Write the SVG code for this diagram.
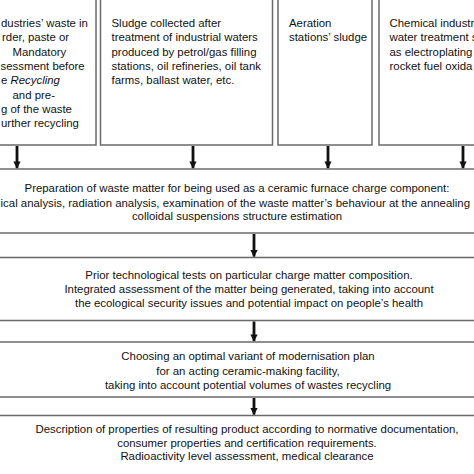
<svg xmlns="http://www.w3.org/2000/svg" width="474" height="474" viewBox="0 0 474 474">
<style>
text{font-family:"Liberation Sans",Arial,sans-serif;font-size:11.4px;fill:#111}
.c{text-anchor:middle}
.e{text-anchor:end}
.box{fill:#fff;stroke:#6a6a6a;stroke-width:1.5}
.hl{stroke:#6a6a6a;stroke-width:1.5}
.ar{stroke:#111;stroke-width:2.8;marker-end:url(#ah)}
</style>
<defs>
<marker id="ah" viewBox="0 0 10 10" refX="9" refY="5" markerWidth="2.6" markerHeight="2.8" orient="auto" markerUnits="strokeWidth">
<path d="M0,0 L10,5 L0,10 Z" fill="#111"/>
</marker>
</defs>
<rect width="474" height="474" fill="#fff"/>
<g id="n1">
<rect class="box" x="-10" y="-2" width="106" height="147"/>
<text x="1" y="27">dustries’ waste in</text>
<text x="2" y="41">rder, paste or</text>
<text x="12.5" y="55.5">Mandatory</text>
<text x="0.5" y="70">sessment before</text>
<text x="1" y="84">e <tspan font-style="italic">Recycling</tspan></text>
<text x="12.5" y="98.5">and pre-</text>
<text x="1" y="113">g of the waste</text>
<text x="1" y="127">urther recycling</text>
</g>
<g id="n2">
<rect class="box" x="100.5" y="-2" width="172" height="147"/>
<text x="111.5" y="27">Sludge collected after</text>
<text x="111.5" y="41">treatment of industrial waters</text>
<text x="111.5" y="55.5">produced by petrol/gas filling</text>
<text x="111.5" y="70">stations, oil refineries, oil tank</text>
<text x="111.5" y="84">farms, ballast water, etc.</text>
</g>
<g id="n3">
<rect class="box" x="278" y="-2" width="94" height="147"/>
<text x="289" y="27">Aeration</text>
<text x="289" y="41">stations’ sludge</text>
</g>
<g id="n4">
<rect class="box" x="379" y="-2" width="110" height="147"/>
<text x="389.5" y="27">Chemical industry</text>
<text x="389.5" y="41">water treatment s</text>
<text x="389.5" y="55.5">as electroplating</text>
<text x="389.5" y="70">rocket fuel oxida</text>
</g>
<g id="n5">
<line class="hl" x1="0" y1="169" x2="474" y2="169"/>
<line class="hl" x1="0" y1="233" x2="474" y2="233"/>
<text class="c" x="237" y="192">Preparation of waste matter for being used as a ceramic furnace charge component:</text>
<text class="e" x="470" y="206.5">ical analysis, radiation analysis, examination of the waste matter’s behaviour at the annealing</text>
<text class="c" x="237" y="220">colloidal suspensions structure estimation</text>
</g>
<g id="n6">
<line class="hl" x1="0" y1="257.5" x2="474" y2="257.5"/>
<line class="hl" x1="0" y1="320.5" x2="474" y2="320.5"/>
<text class="c" x="249" y="279">Prior technological tests on particular charge matter composition.</text>
<text class="c" x="249" y="293">Integrated assessment of the matter being generated, taking into account</text>
<text class="c" x="249" y="307">the ecological security issues and potential impact on people’s health</text>
</g>
<g id="n7">
<line class="hl" x1="0" y1="342" x2="474" y2="342"/>
<line class="hl" x1="0" y1="397" x2="474" y2="397"/>
<text class="c" x="248" y="360">Choosing an optimal variant of modernisation plan</text>
<text class="c" x="248" y="374.5">for an acting ceramic-making facility,</text>
<text class="c" x="248" y="389">taking into account potential volumes of wastes recycling</text>
</g>
<g id="n8">
<line class="hl" x1="0" y1="415.5" x2="474" y2="415.5"/>
<text class="c" x="247" y="433">Description of properties of resulting product according to normative documentation,</text>
<text class="c" x="247" y="446.5">consumer properties and certification requirements.</text>
<text class="c" x="247" y="460">Radioactivity level assessment, medical clearance</text>
</g>
<g id="connectors">
<line class="ar" x1="17" y1="146" x2="17" y2="168"/>
<line class="ar" x1="193" y1="146" x2="193" y2="168"/>
<line class="ar" x1="328" y1="146" x2="328" y2="168"/>
<line class="ar" x1="463" y1="146" x2="463" y2="168"/>
<line class="ar" x1="254" y1="234" x2="254" y2="256.5"/>
<line class="ar" x1="254" y1="321.5" x2="254" y2="341"/>
<line class="ar" x1="254" y1="398" x2="254" y2="414.5"/>
</g>
</svg>
